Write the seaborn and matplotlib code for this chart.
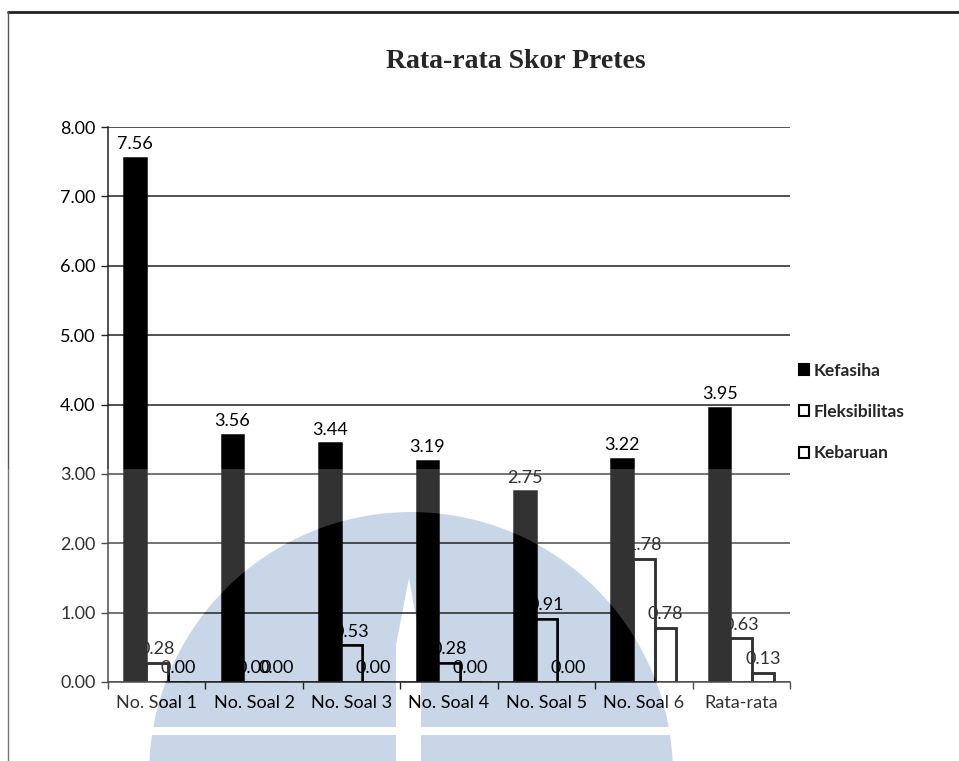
import matplotlib.pyplot as plt
import matplotlib.patches as mpatches
from matplotlib.lines import Line2D
from matplotlib.ticker import FixedLocator
import seaborn as sns
import numpy as np
import pandas as pd

CATEGORIES = ['No. Soal 1', 'No. Soal 2', 'No. Soal 3', 'No. Soal 4',
              'No. Soal 5', 'No. Soal 6', 'Rata-rata']
SERIES = ['Kefasiha', 'Fleksibilitas', 'Kebaruan']
KEFASIHA = [7.56, 3.56, 3.44, 3.19, 2.75, 3.22, 3.95]
FLEKSIBILITAS = [0.28, 0.00, 0.53, 0.28, 0.91, 1.78, 0.63]
KEBARUAN = [0.00, 0.00, 0.00, 0.00, 0.00, 0.78, 0.13]
Y_TICKS = [0, 1, 2, 3, 4, 5, 6, 7, 8]
TITLE = 'Rata-rata Skor Pretes'

W, H = 959, 761
WATERMARK = '#c9d6e8'


def fx(x):
    return x / W


def fy(y):
    return 1 - y / H


def logo_patch(**kw):
    # scanned page watermark (big dome behind the chart)
    r = 262
    return mpatches.Ellipse((fx(411), fy(774)), 2 * r / W, 2 * r / H,
                            facecolor=WATERMARK, edgecolor='none', **kw)


df = pd.DataFrame({
    'Soal': CATEGORIES * 3,
    'Aspek': [s for s in SERIES for _ in CATEGORIES],
    'Skor': KEFASIHA + FLEKSIBILITAS + KEBARUAN,
})

sns.set_theme(style='white')
plt.rcParams['font.family'] = ['Lato', 'DejaVu Sans']

fig = plt.figure(figsize=(W / 100, H / 100), dpi=100)
fig.patch.set_facecolor('white')

# watermark behind everything
fig.add_artist(logo_patch(transform=fig.transFigure, zorder=-5))
notch = mpatches.Polygon([(fx(409), fy(578)), (fx(396), fy(645)), (fx(396), fy(761)),
                          (fx(421), fy(761)), (fx(421), fy(645))],
                         closed=True, transform=fig.transFigure,
                         facecolor='white', edgecolor='none', zorder=-4)
fig.add_artist(notch)
fig.add_artist(mpatches.Rectangle((fx(100), fy(735)), fx(600), 8 / H,
                                  transform=fig.transFigure, facecolor='white',
                                  edgecolor='none', zorder=-4))

ax = fig.add_axes([fx(108), fy(682), fx(790) - fx(108), fy(127) - fy(682)])
ax.patch.set_alpha(0)

sns.barplot(data=df, x='Soal', y='Skor', hue='Aspek', order=CATEGORIES,
            hue_order=SERIES, palette=['black', 'white', 'white'],
            saturation=1, width=0.667, edgecolor='black', linewidth=1.8,
            legend=False, ax=ax)

# white bars show the watermark through them, like the scan
for cont in ax.containers[1:]:
    for bar in cont:
        if bar.get_height() <= 0:
            continue
        wm = logo_patch(transform=fig.transFigure, zorder=bar.get_zorder() + 0.1)
        ax.add_patch(wm)
        wm.set_clip_path(bar)
        ax.add_patch(mpatches.Rectangle((bar.get_x(), 0), bar.get_width(), bar.get_height(),
                                        facecolor='none', edgecolor='black',
                                        linewidth=1.8, zorder=bar.get_zorder() + 0.2))

for cont in ax.containers:
    ax.bar_label(cont, fmt='%.2f', padding=4, fontsize=13, color='black')

ax.set_ylim(0, 8)
ax.set_xlim(-0.5, len(CATEGORIES) - 0.5)
ax.set_yticks(Y_TICKS)
ax.set_yticklabels([f'{v:.2f}' for v in Y_TICKS], fontsize=13)
ax.set_xlabel('')
ax.set_ylabel('')
ax.tick_params(axis='x', which='major', length=0, pad=9, labelsize=13, colors='black')
ax.xaxis.set_minor_locator(FixedLocator(np.arange(len(CATEGORIES) + 1) - 0.5))
ax.tick_params(axis='x', which='minor', bottom=True, length=5, width=1, color='#222')
ax.tick_params(axis='y', left=True, length=5, width=1, pad=4, colors='black')
ax.tick_params(axis='y', color='#222')

ax.yaxis.grid(True, color='#222', linewidth=1.1)
ax.set_axisbelow(True)
for side in ['top', 'right']:
    ax.spines[side].set_visible(False)
for side in ['left', 'bottom']:
    ax.spines[side].set_color('#222')
    ax.spines[side].set_linewidth(1.1)

handles = [mpatches.Patch(facecolor='black', edgecolor='black', linewidth=1.5),
           mpatches.Patch(facecolor='white', edgecolor='black', linewidth=1.5),
           mpatches.Patch(facecolor='white', edgecolor='black', linewidth=1.5)]
fig.legend(handles, SERIES, loc='center left', bbox_to_anchor=(fx(783), fy(412)),
           frameon=False, prop={'size': 12.5, 'weight': 'bold'},
           handlelength=0.6, handleheight=0.6,
           handletextpad=0.25, labelspacing=1.45)

fig.text(fx(516), fy(62), TITLE, ha='center', va='center', fontsize=20,
         fontweight='bold', family='Liberation Serif')

# haze of the scan on the lower half, outside the dome
verts = [(0, fy(469)), (1, fy(469)), (1, 0), (0, 0), (0, fy(469))]
codes = [mpatches.Path.MOVETO] + [mpatches.Path.LINETO] * 3 + [mpatches.Path.CLOSEPOLY]
t = np.linspace(0, 2 * np.pi, 120)
cx = fx(411) + 262 / W * np.cos(t)
cy = fy(774) + 262 / H * np.sin(t)
circ = list(zip(cx, cy))
verts += circ + [circ[0]]
codes += [mpatches.Path.MOVETO] + [mpatches.Path.LINETO] * (len(circ) - 1) + [mpatches.Path.CLOSEPOLY]
haze = mpatches.PathPatch(mpatches.Path(verts, codes), transform=fig.transFigure,
                          facecolor='white', edgecolor='none', alpha=0.2, zorder=10)
fig.add_artist(haze)

# page frame of the scan
fig.add_artist(Line2D([fx(8), 1], [fy(12), fy(12)], transform=fig.transFigure,
                      color='#222', linewidth=2))
fig.add_artist(Line2D([fx(8), fx(8)], [fy(12), 0], transform=fig.transFigure,
                      color='#555', linewidth=1))

fig.savefig('out.png', dpi=100, facecolor='white')
